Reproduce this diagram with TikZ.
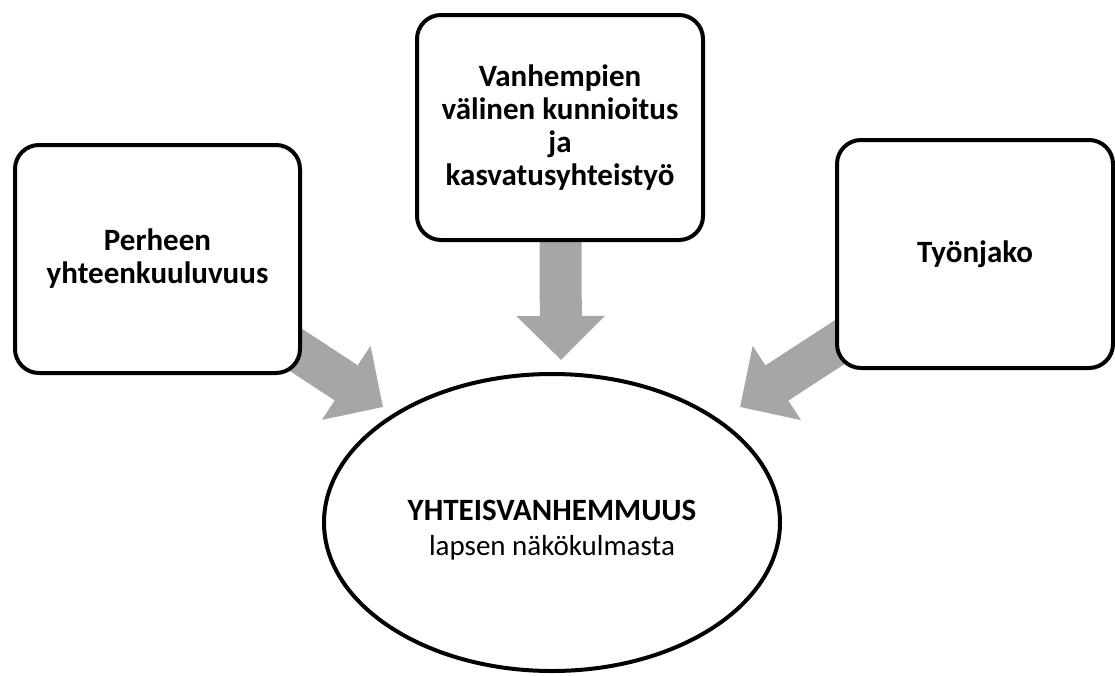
\documentclass[tikz,border=0pt]{standalone}
\usepackage{fontspec}
\setmainfont{Carlito}
\usetikzlibrary{arrows.meta,shapes.geometric,backgrounds}
\definecolor{arrowgray}{HTML}{A6A6A6}
\tikzset{
  box/.style={draw=black, line width=4pt, rounded corners=24pt, fill=white,
    align=center, inner sep=0pt, font=\fontsize{31}{33}\selectfont\bfseries},
  centre/.style={draw=black, ellipse, line width=4pt, fill=white, align=center,
    inner sep=0pt, minimum width=456pt, minimum height=297pt,
    font=\fontsize{31}{35}\selectfont},
  bigarrow/.style={draw=arrowgray, line width=42pt,
    -{Triangle[width=86pt,length=44pt]}}
}
\begin{document}
\begin{tikzpicture}[x=1pt,y=-1pt]
\useasboundingbox (0,0) rectangle (1115,675);
\node[box, minimum width=285pt, minimum height=228pt] (fam) at (157.5,259)
  {Perheen\\yhteenkuuluvuus};
\node[box, minimum width=286pt, minimum height=225pt] (par) at (560,127.5)
  {Vanhempien\\välinen kunnioitus\\ja\\kasvatusyhteistyö};
\node[box, minimum width=276pt, minimum height=228pt] (work) at (975,254)
  {Työnjako};
\node[centre] (co) at (552,522.5)
  {\rule{0pt}{36pt}\textbf{YHTEISVANHEMMUUS}\\\fontsize{29}{35}\selectfont lapsen näkökulmasta};
\coordinate (tl) at (383,407);
\coordinate (tm) at (561,360);
\coordinate (tr) at (740,407);
\begin{scope}[on background layer]
\fill[white] (0,0) rectangle (1115,675);
\draw[bigarrow] (fam.center) -- (tl);
\draw[bigarrow] (par.center) -- (tm);
\draw[bigarrow] (work.center) -- (tr);
\end{scope}
\end{tikzpicture}
\end{document}
